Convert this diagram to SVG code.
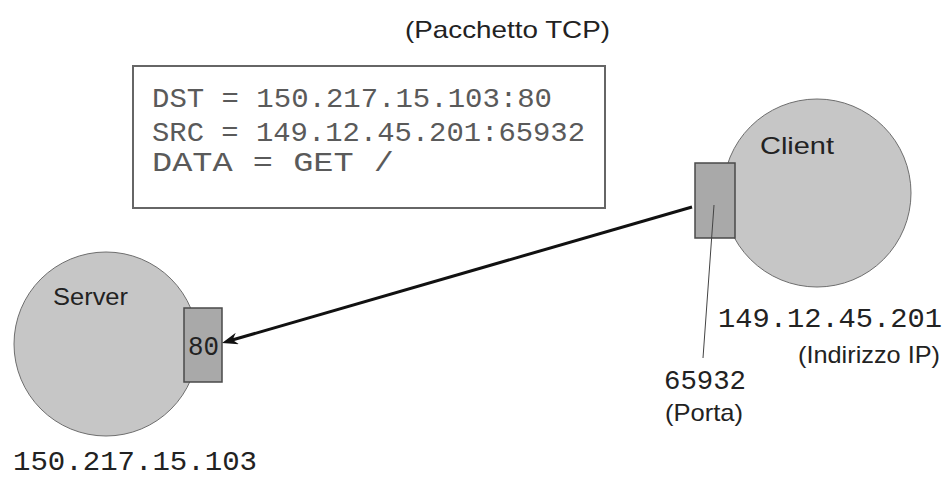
<svg xmlns="http://www.w3.org/2000/svg" width="943" height="478" viewBox="0 0 943 478">
<style>
  .host { fill: #c6c6c6; stroke: #6e6e6e; stroke-width: 1; }
  .port { fill: #a9a9a9; stroke: #4a4a4a; stroke-width: 1.5; }
  .sans { font-family: "Liberation Sans", Arial, sans-serif; font-size: 24px; fill: #222; }
  .mono { font-family: "Liberation Mono", "DejaVu Sans Mono", monospace; font-size: 28px; fill: #222; }
  .pkt { font-family: "Liberation Mono", "DejaVu Sans Mono", monospace; font-size: 27px; fill: #5a5a5a; }
  .box { fill: #fff; stroke: #666; stroke-width: 2; }
  .arrow { stroke: #111; stroke-width: 3; fill: none; }
  .thin { stroke: #444; stroke-width: 1; fill: none; }
</style>
<defs>
  <marker id="head" markerUnits="userSpaceOnUse" markerWidth="16" markerHeight="12" refX="10" refY="6" orient="auto">
    <path d="M0,0 L16,6 L0,12 L5,6 z" fill="#111"/>
  </marker>
</defs>
<rect width="943" height="478" fill="#fff"/>

<g id="packet">
  <text class="sans" x="405" y="38" textLength="205" lengthAdjust="spacingAndGlyphs">(Pacchetto TCP)</text>
  <rect class="box" x="133" y="66" width="472" height="142"/>
  <text class="pkt" x="152" y="107" textLength="400" lengthAdjust="spacingAndGlyphs">DST = 150.217.15.103:80</text>
  <text class="pkt" x="152" y="141" textLength="433" lengthAdjust="spacingAndGlyphs">SRC = 149.12.45.201:65932</text>
  <text class="pkt" x="152" y="171" textLength="242" lengthAdjust="spacingAndGlyphs">DATA = GET /</text>
</g>

<g id="server">
  <circle class="host" cx="106" cy="344" r="92"/>
  <text class="sans" x="53" y="305" textLength="75" lengthAdjust="spacingAndGlyphs">Server</text>
  <rect class="port" x="184" y="308" width="38" height="74"/>
  <text class="mono" x="188" y="355" font-size="26" textLength="31" lengthAdjust="spacingAndGlyphs">80</text>
  <text class="mono" x="13" y="470" font-size="26" textLength="244" lengthAdjust="spacingAndGlyphs">150.217.15.103</text>
</g>

<g id="client">
  <circle class="host" cx="817" cy="193" r="94"/>
  <text class="sans" x="760" y="154" textLength="74" lengthAdjust="spacingAndGlyphs">Client</text>
  <rect class="port" x="695" y="163" width="40" height="75"/>
  <text class="mono" x="718" y="327" textLength="224" lengthAdjust="spacingAndGlyphs">149.12.45.201</text>
  <text class="sans" x="798" y="363" textLength="142" lengthAdjust="spacingAndGlyphs">(Indirizzo IP)</text>
</g>

<g id="client-port-label">
  <text class="mono" x="664" y="389" textLength="82" lengthAdjust="spacingAndGlyphs">65932</text>
  <text class="sans" x="665" y="421" textLength="78" lengthAdjust="spacingAndGlyphs">(Porta)</text>
</g>

<g id="connectors">
  <line class="arrow" x1="692" y1="207" x2="227.8" y2="341.3" marker-end="url(#head)"/>
  <line class="thin" x1="714" y1="205" x2="703" y2="358"/>
</g>
</svg>
